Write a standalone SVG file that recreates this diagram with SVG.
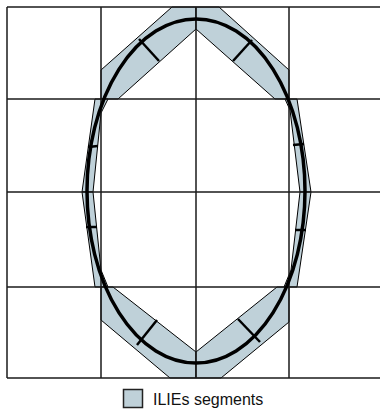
<svg xmlns="http://www.w3.org/2000/svg" width="380" height="411" viewBox="0 0 380 411">
<style>
.seg{fill:#bfd1d9;stroke:#000;stroke-width:1;stroke-linejoin:miter}
.div{stroke:#000;stroke-width:2.5;fill:none}
.grid{stroke:#1a1a1a;stroke-width:1.5;fill:none}
.curve{stroke:#000;stroke-width:3.5;fill:none}
.lbl{font-family:"Liberation Sans",Arial,sans-serif;font-size:16px;fill:#111}
</style>
<rect width="380" height="411" fill="#fff"/>
<g id="segments">
<g id="seg-tl"><polygon class="seg" points="101,99 101,70 172,7 196,7 196,29 118,99"/><line class="div" x1="139" y1="39" x2="159" y2="61"/></g>
<g id="seg-tr"><polygon class="seg" points="196,7 219,7 289,70 289,99 275,99 196,29"/><line class="div" x1="252" y1="40" x2="233" y2="61"/></g>
<g id="seg-l1"><polygon class="seg" points="95,99 108,99 101,113 93,192 82,192"/><line class="div" x1="88" y1="147" x2="98" y2="146"/></g>
<g id="seg-l2"><polygon class="seg" points="82,192 93,192 101,270 108,287 95,287"/><line class="div" x1="86" y1="227" x2="97" y2="227"/></g>
<g id="seg-r1"><polygon class="seg" points="297,99 311,192 300,192 290,110 285,99"/><line class="div" x1="293" y1="145" x2="304" y2="144"/></g>
<g id="seg-r2"><polygon class="seg" points="300,192 311,192 297,287 284,287 291,270"/><line class="div" x1="295" y1="230" x2="306" y2="230"/></g>
<g id="seg-bl"><polygon class="seg" points="101,287 113,287 196,352 196,378 170,378 101,320"/><line class="div" x1="137" y1="345" x2="157" y2="320"/></g>
<g id="seg-br"><polygon class="seg" points="277,287 289,287 289,322 221,378 196,378 196,352"/><line class="div" x1="238" y1="319" x2="260" y2="342"/></g>
</g>
<g id="grid" class="grid">
<line x1="7" y1="7" x2="7" y2="378"/>
<line x1="101" y1="7" x2="101" y2="378"/>
<line x1="196" y1="7" x2="196" y2="378"/>
<line x1="289" y1="7" x2="289" y2="378"/>
<line x1="7" y1="7" x2="383" y2="7"/>
<line x1="7" y1="99" x2="383" y2="99"/>
<line x1="7" y1="192" x2="383" y2="192"/>
<line x1="7" y1="287" x2="383" y2="287"/>
<line x1="7" y1="378" x2="383" y2="378"/>
</g>
<g id="interface-curve">
<ellipse class="curve" cx="196" cy="191" rx="109" ry="172"/>
</g>
<g id="legend">
<rect x="123.5" y="389.5" width="19" height="18" fill="#bfd1d9" stroke="#222" stroke-width="1.5"/>
<text class="lbl" x="153" y="405">ILIEs segments</text>
</g>
</svg>
